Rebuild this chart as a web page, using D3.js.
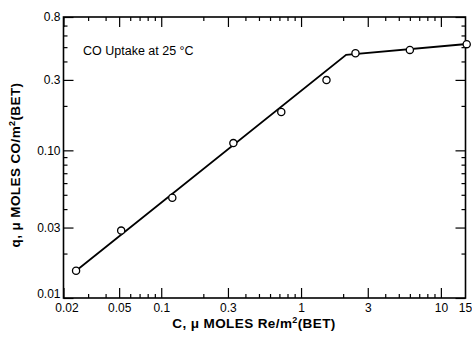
<!DOCTYPE html>
<html>
<head>
<meta charset="utf-8">
<style>
    body { margin: 0; background: #fff; }
    svg { font-family: "Liberation Sans", Arial, sans-serif; }
    .tick text { font-size: 12px; fill: #000; }
    .domain { display: none; }
    .tick line { stroke: #000; stroke-width: 1.2; }
    .frame { fill: none; stroke: #000; stroke-width: 1.6; }
    .fit { fill: none; stroke: #000; stroke-width: 1.8; }
    .pt { fill: #fff; stroke: #000; stroke-width: 1.3; }
    .title { font-size: 13.5px; font-weight: bold; letter-spacing: 0.4px; }
</style>
</head>
<body>
<svg width="472" height="339"></svg>
<script src="https://cdn.jsdelivr.net/npm/d3@7"></script>
<script>
    // measured points, C (x) vs q (y)
    var cValues = [0.0246, 0.0517, 0.12, 0.328, 0.722, 1.52, 2.45, 6.0, 15.3];
    var qValues = [0.0153, 0.0286, 0.0477, 0.112, 0.182, 0.299, 0.455, 0.479, 0.524];

    // the drawn line (fit + plateau)
    var lineC = [0.0246, 2.1, 15.3];
    var lineQ = [0.0153, 0.443, 0.525];

    // tick labels
    var xTicks = [0.02, 0.05, 0.1, 0.3, 1, 3, 10];
    var xTickText = ['0.02', '0.05', '0.1', '0.3', '1', '3', '10'];
    var yTicks = [0.01, 0.03, 0.1, 0.3, 0.8];
    var yTickText = ['0.01', '0.03', '0.10', '0.3', '0.8'];

    var plotL = 63.5, plotR = 465.5, plotT = 17, plotB = 298;

    var svg = d3.select('svg');

    var x = d3.scaleLog().domain([0.02, 15]).range([plotL, plotR]);
    var y = d3.scaleLog().domain([0.01, 0.8]).range([plotB, plotT]);

    // minor ticks: 2..9 of every decade inside the domain
    function minors(scale, skip) {
        var out = [];
        var d = scale.domain();
        for (var k = -3; k <= 2; k++) {
            for (var m = 1; m <= 9; m++) {
                var v = +(m * Math.pow(10, k)).toPrecision(3);
                if (v > d[0] * 1.0001 && v < d[1] * 0.9999 && skip.indexOf(v) < 0) out.push(v);
            }
        }
        return out;
    }
    var xMinor = minors(x, xTicks);
    var yMinor = minors(y, yTicks);

    function fmt(vals, texts) {
        return function (d) { return texts[vals.indexOf(d)]; };
    }

    // bottom
    svg.append('g').attr('transform', 'translate(0,' + plotB + ')')
        .call(d3.axisBottom(x).tickValues(xMinor).tickSize(-4).tickFormat(''));
    var xb = svg.append('g').attr('transform', 'translate(0,' + plotB + ')')
        .call(d3.axisBottom(x).tickValues(xTicks).tickSize(-10).tickPadding(5)
            .tickFormat(fmt(xTicks, xTickText)));
    // first label sits a little right of the corner
    xb.selectAll('.tick text').filter(function (d) { return d === 0.02; }).attr('dx', 3);
    // the corner label "15"
    xb.append('text').attr('x', x(15)).attr('y', 5).attr('dy', '0.71em')
        .attr('text-anchor', 'middle').attr('font-size', 12).attr('fill', '#000').text('15');

    // top
    svg.append('g').attr('transform', 'translate(0,' + plotT + ')')
        .call(d3.axisTop(x).tickValues(xMinor).tickSize(-4).tickFormat(''));
    svg.append('g').attr('transform', 'translate(0,' + plotT + ')')
        .call(d3.axisTop(x).tickValues(xTicks).tickSize(-10).tickFormat(''));

    // left
    svg.append('g').attr('transform', 'translate(' + plotL + ',0)')
        .call(d3.axisLeft(y).tickValues(yMinor).tickSize(-4).tickFormat(''));
    var yl = svg.append('g').attr('transform', 'translate(' + plotL + ',0)')
        .call(d3.axisLeft(y).tickValues(yTicks).tickSize(-10).tickPadding(3)
            .tickFormat(fmt(yTicks, yTickText)));
    // lowest label lifted clear of the x labels
    yl.selectAll('.tick text').filter(function (d) { return d === 0.01; }).attr('y', -4);

    // right
    svg.append('g').attr('transform', 'translate(' + plotR + ',0)')
        .call(d3.axisRight(y).tickValues(yMinor).tickSize(-4).tickFormat(''));
    svg.append('g').attr('transform', 'translate(' + plotR + ',0)')
        .call(d3.axisRight(y).tickValues(yTicks).tickSize(-10).tickFormat(''));

    svg.append('rect').attr('class', 'frame')
        .attr('x', plotL).attr('y', plotT)
        .attr('width', plotR - plotL).attr('height', plotB - plotT);

    // line
    var line = d3.line()
        .x(function (d, i) { return x(lineC[i]); })
        .y(function (d, i) { return y(lineQ[i]); });
    svg.append('path').attr('class', 'fit').attr('d', line(lineC));

    // points
    svg.append('g').selectAll('circle')
        .data(cValues)
        .join('circle')
        .attr('class', 'pt')
        .attr('r', 3.6)
        .attr('cx', function (d) { return x(d); })
        .attr('cy', function (d, i) { return y(qValues[i]); });

    // annotation
    svg.append('text').attr('x', 83).attr('y', 55)
        .attr('font-size', 12.5).text('CO Uptake at 25 \u00b0C');

    // axis titles
    var xt = svg.append('text').attr('class', 'title')
        .attr('x', 254).attr('y', 328).attr('text-anchor', 'middle');
    xt.append('tspan').text('C, \u03bc MOLES Re/m');
    xt.append('tspan').attr('font-size', 9).attr('dy', -5).text('2');
    xt.append('tspan').attr('dy', 5).text('(BET)');

    var yt = svg.append('text').attr('class', 'title')
        .attr('transform', 'translate(20,165) rotate(-90)').attr('text-anchor', 'middle');
    yt.append('tspan').text('q, \u03bc MOLES CO/m');
    yt.append('tspan').attr('font-size', 9).attr('dy', -5).text('2');
    yt.append('tspan').attr('dy', 5).text('(BET)');
</script>
</body>
</html>
